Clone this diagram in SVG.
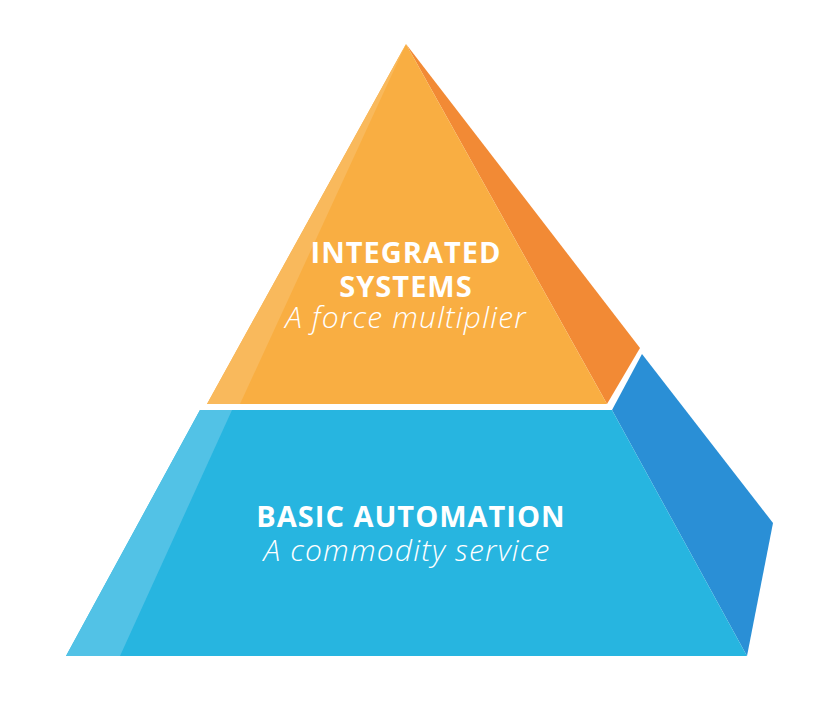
<svg xmlns="http://www.w3.org/2000/svg" width="840" height="723" viewBox="0 0 840 723">
<style>
.h{font-family:"Open Sans","Liberation Sans",sans-serif;font-weight:700;fill:#fff;text-anchor:middle;font-size:29px;letter-spacing:1px}
.s{font-family:"Open Sans","Liberation Sans",sans-serif;font-style:italic;font-weight:300;fill:#fff;text-anchor:middle;font-size:30px;letter-spacing:1.2px}
</style>
<rect width="840" height="723" fill="#fff"/>
<g id="top-layer">
<polygon points="406,44 640,348 607,404" fill="#F28A35"/>
<polygon points="406,44 607,404 207,404" fill="#F9AE42"/>
<polygon points="406,44 240,404 207,404" fill="#F9B95C"/>
<text class="h" x="406" y="263">INTEGRATED</text>
<text class="h" x="406" y="297">SYSTEMS</text>
<text class="s" x="406" y="328">A force multiplier</text>
</g>
<g id="bottom-layer">
<polygon points="642,354 773,523 747,656 612,410" fill="#2A8FD6"/>
<polygon points="200,410 612,410 747,656 66,656" fill="#27B5E0"/>
<polygon points="200,410 232,410 120,656 66,656" fill="#52C2E6"/>
<text class="h" x="411" y="527">BASIC AUTOMATION</text>
<text class="s" x="407" y="561">A commodity service</text>
</g>
<g id="connectors"/>
</svg>
